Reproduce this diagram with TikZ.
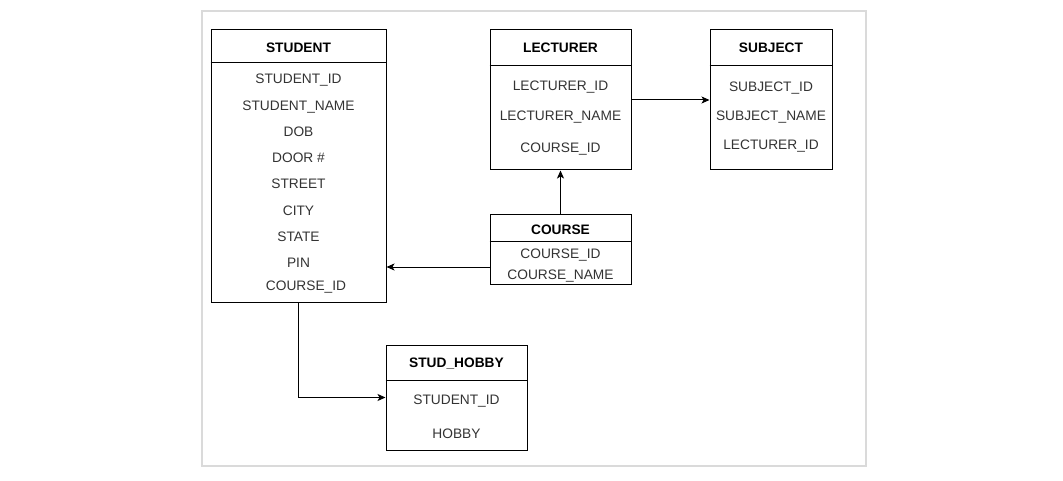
\documentclass[tikz,border=0pt]{standalone}
\usepackage{fontspec}
\setmainfont{Liberation Sans}
\usetikzlibrary{arrows.meta}
\definecolor{fieldtext}{HTML}{333333}
\definecolor{framegray}{HTML}{DADADA}
\begin{document}
\begin{tikzpicture}[x=0.75pt,y=-0.75pt,
  entity/.style={draw=black, line width=0.75pt, inner sep=0pt, fill=white},
  sepline/.style={draw=black, line width=0.75pt},
  hdr/.style={anchor=base, inner sep=0pt, font=\bfseries\fontsize{10.3}{12}\selectfont, text=black},
  fld/.style={anchor=base, inner sep=0pt, font=\fontsize{10.3}{12}\selectfont, text=fieldtext},
  conn/.style={draw=black, line width=0.75pt, -{Stealth[length=6pt,width=5.25pt,inset=1.5pt]}}]
\useasboundingbox (0,0) rectangle (1063,481);
\draw[framegray, line width=1.5pt] (202,11) rectangle (866,466);

% STUDENT
\node[entity, minimum width=131.25pt, minimum height=204pt] (student) at (298.5,166) {};
\draw[sepline] (student.west |- 0,63) -- (student.east |- 0,63);
\node[hdr] (studenth) at (298.5,52.5) {STUDENT};
\node[fld] (st1) at (298.5,83.5) {STUDENT\_ID};
\node[fld] (st2) at (298.5,110.2) {STUDENT\_NAME};
\node[fld] (st3) at (298.5,136.2) {DOB};
\node[fld] (st4) at (298.5,162.5) {DOOR \#};
\node[fld] (st5) at (298.5,188.5) {STREET};
\node[fld] (st6) at (298.5,215.5) {CITY};
\node[fld] (st7) at (298.5,241.5) {STATE};
\node[fld] (st8) at (298.5,267.5) {PIN};
\node[fld] (st9) at (306,290.5) {COURSE\_ID};

% LECTURER
\node[entity, minimum width=105.75pt, minimum height=105pt] (lect) at (560.5,100) {};
\draw[sepline] (lect.west |- 0,65.5) -- (lect.east |- 0,65.5);
\node[hdr] (lecth) at (560.5,53) {LECTURER};
\node[fld] (le1) at (560.5,91) {LECTURER\_ID};
\node[fld] (le2) at (560.5,120.5) {LECTURER\_NAME};
\node[fld] (le3) at (560.5,152) {COURSE\_ID};

% SUBJECT
\node[entity, minimum width=91.5pt, minimum height=105pt] (subj) at (771,100) {};
\draw[sepline] (subj.west |- 0,65.5) -- (subj.east |- 0,65.5);
\node[hdr] (subjh) at (771,53) {SUBJECT};
\node[fld] (su1) at (771,91.2) {SUBJECT\_ID};
\node[fld] (su2) at (771,121) {SUBJECT\_NAME};
\node[fld] (su3) at (771,149.5) {LECTURER\_ID};

% COURSE
\node[entity, minimum width=105.75pt, minimum height=52.9pt] (course) at (560.5,249.3) {};
\draw[sepline] (course.west |- 0,241.7) -- (course.east |- 0,241.7);
\node[hdr] (courseh) at (560.5,234) {COURSE};
\node[fld] (co1) at (560.5,258.5) {COURSE\_ID};
\node[fld] (co2) at (560.5,279.5) {COURSE\_NAME};

% STUD_HOBBY
\node[entity, minimum width=105.75pt, minimum height=78.75pt] (hobby) at (456.5,397.5) {};
\draw[sepline] (hobby.west |- 0,380) -- (hobby.east |- 0,380);
\node[hdr] (hobbyh) at (456.5,367.5) {STUD\_HOBBY};
\node[fld] (ho1) at (456.5,404.5) {STUDENT\_ID};
\node[fld] (ho2) at (456.5,438.5) {HOBBY};

% connectors
\draw[conn] (lect.east) -- (subj.west);
\draw[conn] (course.north) -- (lect.south);
\draw[conn] (course.west |- 0,267) -- (student.east |- 0,267);
\draw[conn] (student.south) |- (hobby.west);
\end{tikzpicture}
\end{document}
